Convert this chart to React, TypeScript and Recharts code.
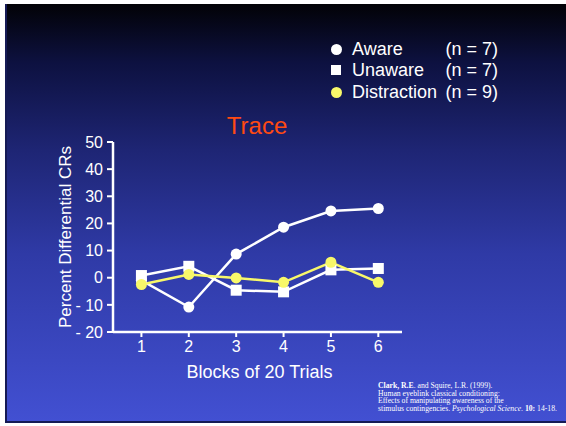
import { LineChart, Line, XAxis, YAxis } from 'recharts';

const blocks = [1, 2, 3, 4, 5, 6];
const aware = [-1, -10.8, 8.7, 18.6, 24.6, 25.5];
const unaware = [0.8, 4.2, -4.6, -5.2, 2.9, 3.4];
const distraction = [-2.5, 1.2, -0.1, -1.7, 5.7, -1.7];
const yTicks = [-20, -10, 0, 10, 20, 30, 40, 50];

const data = blocks.map((b, i) => ({
  block: b,
  aware: aware[i],
  unaware: unaware[i],
  distraction: distraction[i],
}));

const FONT = '"Liberation Sans", Arial, sans-serif';
const WHITE = '#ffffff';
const YELLOW = '#f8f86a';

// eslint-disable-next-line @typescript-eslint/no-explicit-any
const SquareDot = (props: any) => {
  const { cx, cy } = props;
  if (cx == null || cy == null) return null;
  return <rect x={cx - 5.5} y={cy - 5.5} width={11} height={11} fill={WHITE} />;
};

const legendRows = [
  { label: 'Aware', n: '(n = 7)', shape: 'circle', color: WHITE },
  { label: 'Unaware', n: '(n = 7)', shape: 'square', color: WHITE },
  { label: 'Distraction', n: '(n = 9)', shape: 'circle', color: YELLOW },
];

export default function App() {
  return (
    <div style={{ position: 'fixed', top: 0, left: 0, width: 566, height: 426, background: '#ffffff' }}>
      <div
        style={{
          position: 'absolute',
          left: 5,
          top: 4,
          width: 559,
          height: 417,
          borderLeft: '2px solid #151a55',
          borderBottom: '2px solid #151a55',
          background: 'linear-gradient(to bottom, #020206 0%, #0d1140 14%, #1e2574 35%, #2f3aa6 60%, #4250d2 100%)',
        }}
      />
      <div style={{ position: 'absolute', left: 0, top: 0 }}>
        <LineChart width={566} height={426} data={data} margin={{ top: 142, right: 164, bottom: 64, left: 53 }}>
          <XAxis
            dataKey="block"
            type="number"
            domain={[0.4, 6.5]}
            ticks={blocks}
            allowDataOverflow
            height={30}
            axisLine={{ stroke: WHITE, strokeWidth: 2.5 }}
            tickLine={{ stroke: WHITE, strokeWidth: 2 }}
            tickSize={5}
            tickMargin={4}
            tick={{ fill: WHITE, fontSize: 16, fontFamily: FONT }}
            // eslint-disable-next-line @typescript-eslint/no-explicit-any
            label={(p: any) => {
              const vb = p.viewBox;
              return (
                <text x={vb.x + vb.width / 2 + 2} y={vb.y + 46} fill={WHITE} fontSize={18} fontFamily={FONT} textAnchor="middle">
                  Blocks of 20 Trials
                </text>
              );
            }}
          />
          <XAxis
            xAxisId="top"
            orientation="top"
            dataKey="block"
            type="number"
            domain={[0.4, 6.5]}
            height={0}
            tick={false}
            tickLine={false}
            axisLine={{ stroke: WHITE, strokeWidth: 2.5 }}
          />
          <YAxis
            type="number"
            domain={[-20, 50]}
            ticks={yTicks}
            interval={0}
            width={60}
            axisLine={{ stroke: WHITE, strokeWidth: 2.5 }}
            tickLine={{ stroke: WHITE, strokeWidth: 2 }}
            tickSize={6}
            tickMargin={4}
            tick={{ fill: WHITE, fontSize: 16, fontFamily: FONT }}
            tickFormatter={(v: number) => (v < 0 ? `- ${Math.abs(v)}` : String(v))}
            // eslint-disable-next-line @typescript-eslint/no-explicit-any
            label={(p: any) => {
              const vb = p.viewBox;
              const x = vb.x + 18;
              const y = vb.y + vb.height / 2;
              return (
                <text x={x} y={y} fill={WHITE} fontSize={17} fontFamily={FONT} textAnchor="middle" transform={`rotate(-90 ${x} ${y})`}>
                  Percent Differential CRs
                </text>
              );
            }}
          />
          <YAxis
            yAxisId="right"
            orientation="right"
            domain={[-20, 50]}
            width={0}
            tick={false}
            tickLine={false}
            axisLine={{ stroke: WHITE, strokeWidth: 2.5 }}
          />
          <Line
            dataKey="aware"
            stroke={WHITE}
            strokeWidth={2.5}
            dot={{ r: 5.5, fill: WHITE, stroke: 'none' }}
            activeDot={false}
            isAnimationActive={false}
          />
          <Line
            dataKey="unaware"
            stroke={WHITE}
            strokeWidth={2.5}
            dot={<SquareDot />}
            activeDot={false}
            isAnimationActive={false}
          />
          <Line
            dataKey="distraction"
            stroke={YELLOW}
            strokeWidth={2.5}
            dot={{ r: 5.5, fill: YELLOW, stroke: 'none' }}
            activeDot={false}
            isAnimationActive={false}
          />
        </LineChart>
      </div>

      {/* title */}
      <div
        style={{
          position: 'absolute',
          left: 157,
          top: 112,
          width: 200,
          textAlign: 'center',
          fontFamily: FONT,
          fontSize: 24,
          lineHeight: '27px',
          color: '#ff4a12',
        }}
      >
        Trace
      </div>

      {/* legend */}
      {legendRows.map((r, i) => (
        <div
          key={r.label}
          style={{
            position: 'absolute',
            left: 328,
            top: 38 + i * 21.3,
            width: 172,
            height: 22,
            fontFamily: FONT,
            fontSize: 18,
            color: WHITE,
            lineHeight: '22px',
          }}
        >
          <span
            style={{
              position: 'absolute',
              left: 3,
              top: 6,
              width: r.shape === 'circle' ? 11 : 10,
              height: r.shape === 'circle' ? 11 : 10,
              borderRadius: r.shape === 'circle' ? '50%' : 0,
              background: r.color,
            }}
          />
          <span style={{ position: 'absolute', left: 24 }}>{r.label}</span>
          <span style={{ position: 'absolute', right: 2 }}>{r.n}</span>
        </div>
      ))}

      {/* citation */}
      <div
        style={{
          position: 'absolute',
          left: 378,
          top: 382,
          fontFamily: '"Liberation Serif", "Times New Roman", serif',
          fontSize: 7.7,
          lineHeight: '7.7px',
          color: WHITE,
          whiteSpace: 'nowrap',
        }}
      >
        <div>
          <b>Clark, R.E</b>. and Squire, L.R. (1999).
        </div>
        <div>Human eyeblink classical conditioning:</div>
        <div>Effects of manipulating awareness of the</div>
        <div>
          stimulus contingencies. <i>Psychological Science</i>. <b>10:</b> 14-18.
        </div>
      </div>
    </div>
  );
}
